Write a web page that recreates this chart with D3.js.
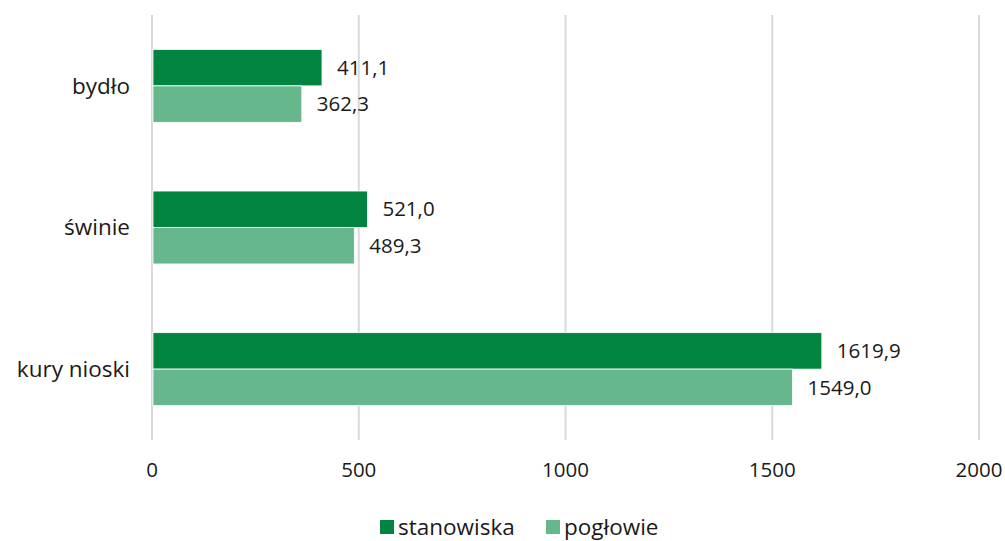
<!DOCTYPE html>
<html>
<head>
<meta charset="utf-8">
<script src="https://cdn.jsdelivr.net/npm/d3@7"></script>
<style>
  body { margin: 0; background: #fff; }
  text { font-family: "Open Sans", "Noto Sans", sans-serif; fill: #1a1a1a; }
</style>
</head>
<body>
<div id="chart"></div>
<script>
const categories = ["bydło", "świnie", "kury nioski"];
const seriesNames = ["stanowiska", "pogłowie"];
const stanowiska = [411.1, 521.0, 1619.9];
const poglowie = [362.3, 489.3, 1549.0];
const tickValues = [0, 500, 1000, 1500, 2000];
const colors = ["#00843f", "#66b88c"];

const width = 1005, height = 541;
const margin = { top: 15, right: 26, bottom: 101, left: 152 };

const svg = d3.select("#chart").append("svg")
  .attr("width", width).attr("height", height);

const x = d3.scaleLinear().domain([0, 2000])
  .range([margin.left, width - margin.right]);
const y = d3.scaleBand().domain(categories)
  .range([margin.top, height - margin.bottom])
  .paddingInner(0.485).paddingOuter(0.243);
const ySub = d3.scaleBand().domain(seriesNames).range([0, y.bandwidth()]);

// gridlines
svg.append("g").selectAll("line")
  .data(tickValues).enter().append("line")
  .attr("x1", d => x(d)).attr("x2", d => x(d))
  .attr("y1", margin.top).attr("y2", height - margin.bottom)
  .attr("stroke", "#d9d9d9").attr("stroke-width", 2);

// tick labels
svg.append("g").selectAll("text")
  .data(tickValues).enter().append("text")
  .attr("x", d => x(d)).attr("y", 477)
  .attr("text-anchor", "middle")
  .style("font-size", "20.5px")
  .text(d => d);

// category labels
svg.append("g").selectAll("text")
  .data(categories).enter().append("text")
  .attr("x", 130).attr("y", d => y(d) + y.bandwidth() / 2)
  .attr("dy", "0.35em")
  .attr("text-anchor", "end")
  .style("font-size", "22.5px")
  .text(d => d);

const rows = categories.map((c, i) => [
  { cat: c, s: seriesNames[0], v: stanowiska[i], col: colors[0] },
  { cat: c, s: seriesNames[1], v: poglowie[i], col: colors[1] }
]).flat();

const fmt = v => d3.format(".1f")(v).replace(".", ",");

svg.append("g").selectAll("rect")
  .data(rows).enter().append("rect")
  .attr("x", x(0) + 1)
  .attr("y", d => y(d.cat) + ySub(d.s))
  .attr("width", d => x(d.v) - x(0) - 1)
  .attr("height", ySub.bandwidth())
  .attr("fill", d => d.col)
  .attr("stroke", "#fff").attr("stroke-width", 0.8);

svg.append("g").selectAll("text")
  .data(rows).enter().append("text")
  .attr("x", d => x(d.v) + 15)
  .attr("y", d => y(d.cat) + ySub(d.s) + ySub.bandwidth() / 2)
  .attr("dy", "0.35em")
  .style("font-size", "20.5px")
  .text(d => fmt(d.v));

// legend
const legend = svg.append("g").attr("transform", "translate(380,527)");
const legendX = [0, 166];
seriesNames.forEach((s, i) => {
  const g = legend.append("g").attr("transform", "translate(" + legendX[i] + ",0)");
  g.append("rect").attr("x", 0).attr("y", -7).attr("width", 14).attr("height", 14)
    .attr("fill", colors[i]);
  g.append("text").attr("x", 18).attr("y", 0).attr("dy", "0.35em")
    .style("font-size", "22.5px").text(s);
});
</script>
</body>
</html>
